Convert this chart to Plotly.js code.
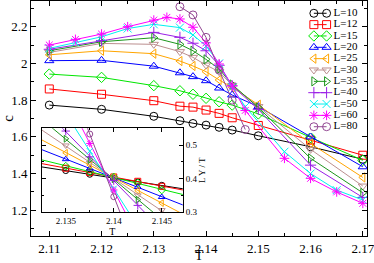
<!DOCTYPE html>
<html><head><meta charset="utf-8">
<script src="https://cdn.plot.ly/plotly-3.0.1.min.js"></script>
<style>html,body{margin:0;padding:0;background:#fff}#chart{width:374px;height:263px}</style>
</head><body><div id="chart"></div>
<script>
const labels = ['L=10','L=12','L=15','L=20','L=25','L=30','L=35','L=40','L=50','L=60','L=80'];
const colors = ['#000000','#ff0000','#00e600','#0000ff','#ffa500','#bc8f8f','#1e961e','#9a1ee6','#00f0f0','#ff00ff','#934893'];
const symbols = ['circle-open','square-open','diamond-open','triangle-up-open','triangle-left-open','triangle-down-open','triangle-right-open','cross-thin-open','x-thin-open','asterisk-open','circle-open'];

// main plot: temperature grids
const T_base = [2.11, 2.12, 2.13, 2.135, 2.1375, 2.14, 2.1425, 2.145, 2.15, 2.16, 2.17];
const T_L50 = [2.11, 2.115, 2.12, 2.125, 2.13, 2.135, 2.1375, 2.14, 2.1425, 2.145, 2.1475, 2.155, 2.16, 2.165, 2.17];
const T_L60 = [2.11, 2.115, 2.12, 2.125, 2.13, 2.1325, 2.135, 2.1375, 2.14, 2.1425, 2.145, 2.1475, 2.155, 2.16, 2.165, 2.17];
const T_L80 = [2.135, 2.1375, 2.14, 2.1425, 2.145, 2.1475];

// specific heat c
const c_L10 = [1.773, 1.750, 1.712, 1.688, 1.673, 1.664, 1.652, 1.637, 1.606, 1.546, 1.478];
const c_L12 = [1.861, 1.832, 1.797, 1.767, 1.762, 1.746, 1.728, 1.704, 1.662, 1.582, 1.500];
const c_L15 = [1.942, 1.924, 1.879, 1.851, 1.832, 1.810, 1.791, 1.773, 1.725, 1.597, 1.472];
const c_L20 = [2.015, 2.017, 1.985, 1.949, 1.928, 1.906, 1.866, 1.828, 1.765, 1.600, 1.437];
const c_L25 = [2.047, 2.069, 2.053, 2.013, 1.986, 1.955, 1.910, 1.870, 1.775, 1.564, 1.379];
const c_L30 = [2.060, 2.109, 2.104, 2.064, 2.033, 1.991, 1.955, 1.880, 1.765, 1.532, 1.332];
const c_L35 = [2.069, 2.118, 2.140, 2.104, 2.069, 2.022, 1.970, 1.885, 1.760, 1.483, 1.295];
const c_L40 = [2.077, 2.125, 2.169, 2.142, 2.110, 2.069, 1.990, 1.878, 1.750, 1.446, 1.270];
const c_L50 = [2.082, 2.115, 2.145, 2.190, 2.213, 2.195, 2.155, 2.095, 2.000, 1.870, 1.764, 1.519, 1.400, 1.310, 1.256];
const c_L60 = [2.100, 2.131, 2.160, 2.200, 2.236, 2.251, 2.242, 2.197, 2.112, 1.997, 1.877, 1.744, 1.483, 1.374, 1.300, 1.238];
const c_L80 = [2.309, 2.264, 2.142, 1.964, 1.800, 1.640];

// inset: L*Y/T
const T_inset = [2.135, 2.1375, 2.14, 2.1425, 2.145];
const y_L10 = [0.424, 0.413, 0.401, 0.390, 0.380];
const y_L12 = [0.431, 0.418, 0.405, 0.392, 0.377];
const y_L15 = [0.437, 0.421, 0.405, 0.387, 0.366];
const y_L20 = [0.458, 0.430, 0.403, 0.375, 0.345];
const y_L25 = [0.477, 0.441, 0.404, 0.364, 0.327];
const y_L30 = [0.499, 0.447, 0.400, 0.350, 0.306];
const y_L35 = [0.519, 0.456, 0.398, 0.337, 0.279];
const y_L40 = [0.542, 0.465, 0.394, 0.320, 0.248];
const y_L50 = [0.595, 0.482, 0.370, 0.257, 0.145];
const y_L60 = [0.646, 0.505, 0.366, 0.225, 0.086];
const y_L80 = [0.720, 0.533, 0.346, 0.160, -0.020];

const mainT = [T_base, T_base, T_base, T_base, T_base, T_base, T_base, T_base, T_L50, T_L60, T_L80];
const mainC = [c_L10, c_L12, c_L15, c_L20, c_L25, c_L30, c_L35, c_L40, c_L50, c_L60, c_L80];
const insetY = [y_L10, y_L12, y_L15, y_L20, y_L25, y_L30, y_L35, y_L40, y_L50, y_L60, y_L80];

const insetRange = [2.1325, 2.1472];
const traces = [];

function fit(xs, ys) {
  const n = xs.length;
  let sx=0, sy=0, sxx=0, sxy=0;
  for (let i=0;i<n;i++){ sx+=xs[i]; sy+=ys[i]; sxx+=xs[i]*xs[i]; sxy+=xs[i]*ys[i]; }
  const b = (n*sxy - sx*sy)/(n*sxx - sx*sx);
  const a = (sy - b*sx)/n;
  return x => a + b*x;
}

for (let i=0;i<labels.length;i++){
  const mk = {symbol: symbols[i], color: colors[i], size: 8, line: {color: colors[i], width: 1}};
  traces.push({x: mainT[i], y: mainC[i], mode: 'lines+markers', xaxis:'x', yaxis:'y',
    line: {color: colors[i], width: 1}, marker: mk, hoverinfo:'skip'});
}
// inset fit lines and markers
for (let i=0;i<labels.length;i++){
  const f = fit(T_inset, insetY[i]);
  traces.push({x: insetRange, y: insetRange.map(f), mode: 'lines', xaxis:'x2', yaxis:'y2',
    line: {color: colors[i], width: 1}, hoverinfo:'skip'});
}
for (let i=0;i<labels.length;i++){
  traces.push({x: T_inset, y: insetY[i], mode: 'markers', xaxis:'x2', yaxis:'y2',
    marker: {symbol: symbols[i], color: colors[i], size: 6, line: {color: colors[i], width: 1}}, hoverinfo:'skip'});
}
// legend (manual, rows by index)
const rowIdx = labels.map((_, i) => i);
for (let i=0;i<labels.length;i++){
  traces.push({x: [0, 1], y: [i, i], mode: 'lines+markers', xaxis:'x3', yaxis:'y3',
    line: {color: colors[i], width: 1},
    marker: {symbol: symbols[i], color: colors[i], size: 8, line: {color: colors[i], width: 1}}, hoverinfo:'skip'});
}
traces.push({x: rowIdx.map(() => 1.55), y: rowIdx, text: labels, mode: 'text', textposition: 'middle right',
  xaxis:'x3', yaxis:'y3', textfont: {family: 'Liberation Serif', size: 11, color: '#000'}, hoverinfo:'skip', cliponaxis: false});

const axBase = {showline: true, linecolor: '#000', linewidth: 1, mirror: 'ticks', ticks: 'inside',
  tickcolor: '#000', showgrid: false, zeroline: false, ticklabeloverflow: 'allow'};

const layout = {
  width: 374, height: 263, margin: {l: 31, r: 7, t: 1, b: 27},
  paper_bgcolor: '#fff', plot_bgcolor: '#fff', showlegend: false,
  font: {family: 'Liberation Serif', color: '#000'},
  xaxis: Object.assign({}, axBase, {domain:[0,1], anchor:'y', range:[2.1065, 2.1708], tick0: 2.11, dtick: 0.01, ticklen: 5,
    minor: {dtick: 0.005, ticks:'inside', ticklen: 3, tickcolor:'#000'},
    tickfont: {size: 13}, title: {text: 'T', font: {size: 14}, standoff: 2}}),
  yaxis: Object.assign({}, axBase, {domain:[0,1], anchor:'x', range:[1.06, 2.34], tick0: 1.2, dtick: 0.2, ticklen: 5,
    minor: {dtick: 0.1, ticks:'inside', ticklen: 3, tickcolor:'#000'},
    tickfont: {size: 13}, title: {text: 'c', font: {size: 15}, standoff: 2}}),
  xaxis2: Object.assign({}, axBase, {domain:[0.032, 0.452], anchor:'y2', range: insetRange, tick0: 2.135, dtick: 0.005, ticklen: 4,
    minor: {dtick: 0.0025, ticks:'inside', ticklen: 2, tickcolor:'#000'},
    tickfont: {size: 9}, title: {text: 'T', font: {size: 10}, standoff: 0}}),
  yaxis2: Object.assign({}, axBase, {domain:[0.101, 0.458], anchor:'x2', side:'right', range:[0.2995, 0.55], dtick: 0.1, tick0: 0.3, ticklen: 4,
    minor: {dtick: 0.05, ticks:'inside', ticklen: 2, tickcolor:'#000'},
    tickfont: {size: 9}, title: {text: 'L Y / T', font: {size: 9}, standoff: 2}}),
  xaxis3: {domain:[0.815, 0.979], anchor:'y3', range:[-0.709, 3.62], visible: false, fixedrange: true},
  yaxis3: {domain:[0.438, 0.983], anchor:'x3', range:[10.56, -0.73], visible: false, fixedrange: true}
};

Plotly.newPlot('chart', traces, layout, {staticPlot: true, displayModeBar: false});
</script>
</body></html>
